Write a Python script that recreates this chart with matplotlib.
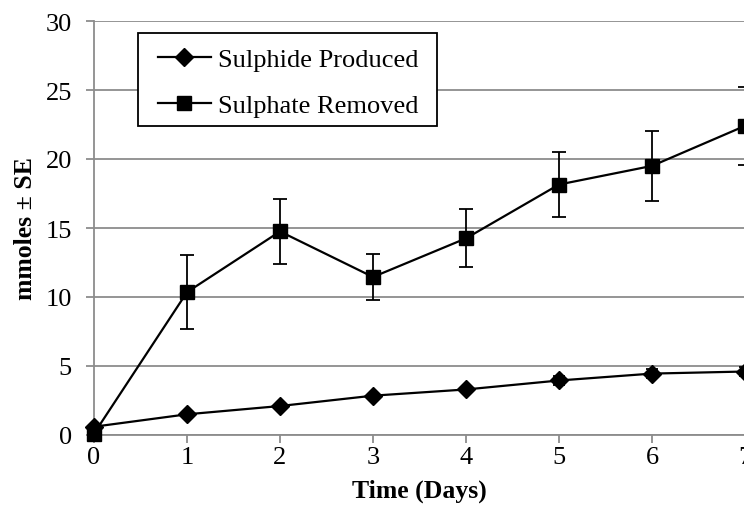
import numpy as np
import matplotlib
matplotlib.use('Agg')
import matplotlib.pyplot as plt
from matplotlib.patches import Rectangle

# data
days = [0, 1, 2, 3, 4, 5, 6, 7]
sulphide = [0.6, 1.5, 2.1, 2.85, 3.3, 3.95, 4.45, 4.6]
sulphide_se = [0.1, 0.1, 0.15, 0.15, 0.2, 0.3, 0.35, 0.35]
sulphate = [0.1, 10.35, 14.75, 11.45, 14.25, 18.15, 19.5, 22.4]
sulphate_se = [0.0, 2.7, 2.35, 1.65, 2.1, 2.35, 2.55, 2.8]

plt.rcParams['font.family'] = ['Liberation Serif', 'DejaVu Serif']

fig = plt.figure(figsize=(7.44, 5.06), dpi=100)
ax = fig.add_axes([94/744, 70/506, 651/744, 414/506])

eb1 = ax.errorbar(days, sulphide, yerr=sulphide_se, color='black', marker='D', markersize=9,
                  linewidth=1.6, capsize=4, elinewidth=1.3, capthick=1.3,
                  clip_on=False, zorder=3)
eb2 = ax.errorbar(days, sulphate, yerr=sulphate_se, color='black', marker='s', markersize=10.5,
                  linewidth=1.6, capsize=5, elinewidth=1.3, capthick=1.3,
                  clip_on=False, zorder=4)

ax.set_xlim(0, 7)
ax.set_ylim(0, 30)
ax.set_xticks(days)
ax.set_yticks(np.arange(0, 31, 5))
ax.yaxis.grid(True, color='#8c8c8c', linewidth=1.3)
ax.set_axisbelow(True)
for s in ['top', 'right']:
    ax.spines[s].set_visible(False)
for s in ['left', 'bottom']:
    ax.spines[s].set_color('#8c8c8c')
    ax.spines[s].set_linewidth(1.3)
ax.tick_params(axis='both', colors='#8c8c8c', labelcolor='black', labelsize=19,
               width=1.3, length=6)
ax.tick_params(axis='y', pad=10)
ax.tick_params(axis='x', pad=2)

ax.set_xlabel('Time (Days)', fontsize=18.5, fontweight='bold')
ax.xaxis.set_label_coords(0.5, -0.105)
ax.set_ylabel('mmoles ± SE', fontsize=18.5, fontweight='bold')
ax.yaxis.set_label_coords(-0.088, 0.5)

# legend box drawn separately so the padding matches the reference
box = Rectangle((44/651, 309/414), 299/651, 93/414, transform=ax.transAxes,
                facecolor='white', edgecolor='black', linewidth=1.3, zorder=5)
ax.add_patch(box)
leg = ax.legend([eb1[0], eb2[0]], ['Sulphide Produced', 'Sulphate Removed'],
                loc='upper left', bbox_to_anchor=(64/651, 1 - 27/414), borderaxespad=0,
                borderpad=0, fontsize=19, frameon=False, handlelength=2.0,
                labelspacing=0.83, handletextpad=0.27)
leg.set_zorder(6)

plt.savefig('out.png', dpi=100)
